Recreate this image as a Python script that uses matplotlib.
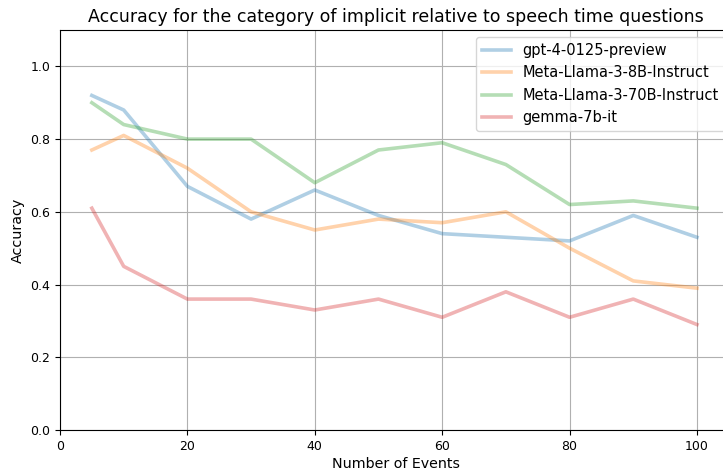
import matplotlib
matplotlib.use("Agg")
import matplotlib.pyplot as plt

events = [5, 10, 20, 30, 40, 50, 60, 70, 80, 90, 100]

gpt4 = [0.92, 0.88, 0.67, 0.58, 0.66, 0.59, 0.54, 0.53, 0.52, 0.59, 0.53]
llama8 = [0.77, 0.81, 0.72, 0.60, 0.55, 0.58, 0.57, 0.60, 0.50, 0.41, 0.39]
llama70 = [0.90, 0.84, 0.80, 0.80, 0.68, 0.77, 0.79, 0.73, 0.62, 0.63, 0.61]
gemma = [0.61, 0.45, 0.36, 0.36, 0.33, 0.36, 0.31, 0.38, 0.31, 0.36, 0.29]

models = ["gpt-4-0125-preview", "Meta-Llama-3-8B-Instruct",
          "Meta-Llama-3-70B-Instruct", "gemma-7b-it"]
series = [gpt4, llama8, llama70, gemma]

fig = plt.figure(figsize=(7.23, 4.70), dpi=100)
# axes run a bit past the right edge, like the cropped original
ax = fig.add_axes([60 / 723, 40 / 470, 672 / 723, 400 / 470])

for name, vals in zip(models, series):
    ax.plot(events, vals, linewidth=2.6, alpha=0.35, label=name)

ax.set_xlim(0, 105.5)
ax.set_ylim(0, 1.1)
ax.set_yticks([0.0, 0.2, 0.4, 0.6, 0.8, 1.0])
ax.set_xticks([0, 20, 40, 60, 80, 100])
ax.tick_params(labelsize=9)
ax.grid(True)
ax.set_xlabel("Number of Events", fontsize=10.3, labelpad=3)
ax.set_ylabel("Accuracy", fontsize=10.3)
ax.set_title("Accuracy for the category of implicit relative to speech time questions",
             fontsize=12.5)
ax.legend(loc="upper right", fontsize=10.5)

fig.savefig("out.png", dpi=100)
